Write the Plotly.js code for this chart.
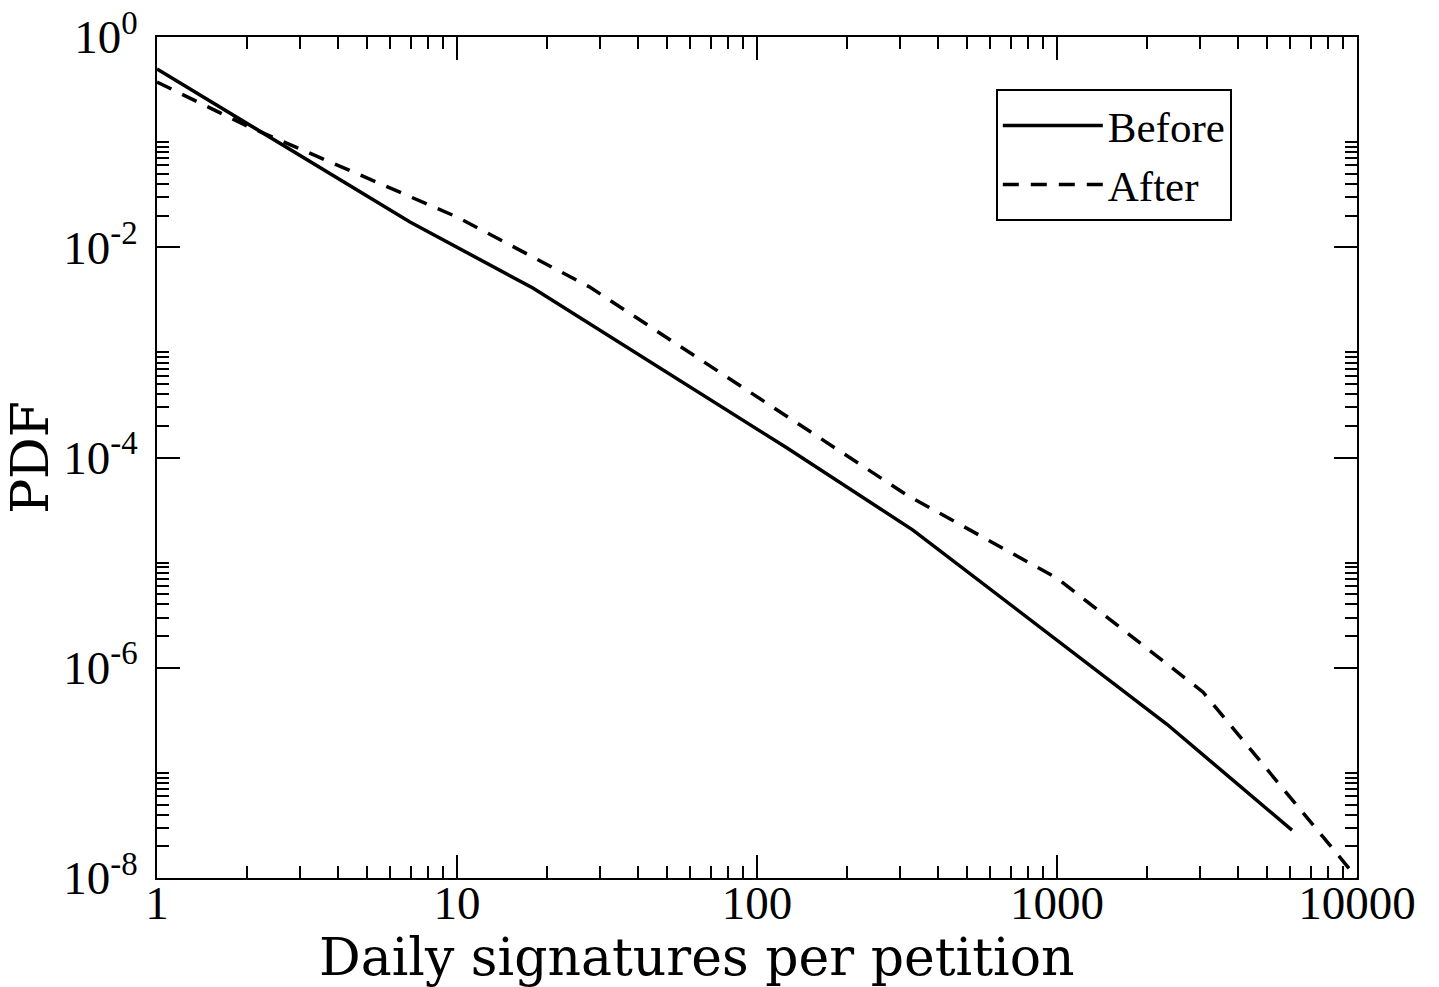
<!DOCTYPE html>
<html>
<head>
<meta charset="utf-8">
<script src="https://cdn.plot.ly/plotly-3.0.1.min.js"></script>
<style>
  html, body { margin: 0; padding: 0; background: #ffffff; }
  #chart { width: 1439px; height: 987px; }
</style>
</head>
<body>
<div id="chart"></div>
<script>
// ---- data ----
const beforeX = [1, 6.97, 17.9, 126, 331, 2326, 6070];
const beforeY = [0.496, 0.0174, 0.00409, 1.23e-4, 2.04e-5, 2.9e-7, 2.85e-8];

const afterX = [1, 2, 10, 27.7, 316, 1000, 3069, 10000];
const afterY = [0.373, 0.142, 0.0194, 0.00418, 4.39e-5, 7.11e-6, 5.86e-7, 1.0e-8];

const seriesNames = ['Before', 'After'];

const xTickVals = [1, 10, 100, 1000, 10000];
const xTickText = ['1', '10', '100', '1000', '10000'];
const xMinorVals = [2,3,4,5,6,7,8,9, 20,30,40,50,60,70,80,90,
                    200,300,400,500,600,700,800,900, 2000,3000,4000,5000,6000,7000,8000,9000];

const yTickVals = [1, 1e-2, 1e-4, 1e-6, 1e-8];
const yTickText = ['10<sup>0</sup>', '10<sup>-2</sup>', '10<sup>-4</sup>', '10<sup>-6</sup>', '10<sup>-8</sup>'];
const yMinorVals = [2e-2,3e-2,4e-2,5e-2,6e-2,7e-2,8e-2,9e-2,1e-1,
                    2e-4,3e-4,4e-4,5e-4,6e-4,7e-4,8e-4,9e-4,1e-3,
                    2e-6,3e-6,4e-6,5e-6,6e-6,7e-6,8e-6,9e-6,1e-5,
                    2e-8,3e-8,4e-8,5e-8,6e-8,7e-8,8e-8,9e-8,1e-7];

const xTitle = 'Daily signatures per petition';
const yTitle = 'PDF';

// ---- traces ----
const traces = [
  {
    x: beforeX, y: beforeY, name: seriesNames[0],
    type: 'scatter', mode: 'lines',
    line: { color: '#000000', width: 3.5, dash: 'solid' }
  },
  {
    x: afterX, y: afterY, name: seriesNames[1],
    type: 'scatter', mode: 'lines',
    line: { color: '#000000', width: 3.5, dash: '16px,12px' }
  }
];

const tickFont = { family: '"Liberation Serif", "Times New Roman", serif', size: 47, color: '#000000' };
const titleFont = { family: '"DejaVu Serif", serif', size: 52, color: '#000000' };

const layout = {
  width: 1439, height: 987,
  margin: { l: 157, r: 82, t: 37, b: 109, pad: 0 },
  paper_bgcolor: '#ffffff', plot_bgcolor: '#ffffff',
  showlegend: true,
  legend: {
    x: 0.699, y: 0.938, xanchor: 'left', yanchor: 'top',
    bgcolor: '#ffffff', bordercolor: '#000000', borderwidth: 2,
    itemwidth: 100, tracegroupgap: 0,
    font: { family: '"Liberation Serif", "Times New Roman", serif', size: 43, color: '#000000' }
  },
  xaxis: {
    type: 'log', range: [0, 4],
    tickmode: 'array', tickvals: xTickVals, ticktext: xTickText,
    ticks: 'inside', ticklen: 23, tickwidth: 2, tickcolor: '#000000',
    showline: true, linewidth: 2, linecolor: '#000000', mirror: 'allticks',
    showgrid: false, zeroline: false,
    tickfont: tickFont, ticklabelstandoff: -17,
    minor: { tickmode: 'array', tickvals: xMinorVals, ticks: 'inside', ticklen: 12,
             tickwidth: 2, tickcolor: '#000000', showgrid: false }
  },
  yaxis: {
    type: 'log', range: [-8, 0],
    tickmode: 'array', tickvals: yTickVals, ticktext: yTickText,
    ticks: 'inside', ticklen: 23, tickwidth: 2, tickcolor: '#000000',
    showline: true, linewidth: 2, linecolor: '#000000', mirror: 'allticks',
    showgrid: false, zeroline: false,
    tickfont: tickFont, ticklabelstandoff: 8,
    minor: { tickmode: 'array', tickvals: yMinorVals, ticks: 'inside', ticklen: 12,
             tickwidth: 2, tickcolor: '#000000', showgrid: false },
    title: { text: yTitle, font: { family: '"DejaVu Serif", serif', size: 52, color: '#000000' }, standoff: 0 }
  },
  annotations: [
    {
      text: xTitle, xref: 'paper', yref: 'paper',
      x: 0.45, y: -0.094, xanchor: 'center', yanchor: 'middle',
      showarrow: false, font: titleFont
    }
  ]
};

Plotly.newPlot('chart', traces, layout, { staticPlot: true, displayModeBar: false });
</script>
</body>
</html>
